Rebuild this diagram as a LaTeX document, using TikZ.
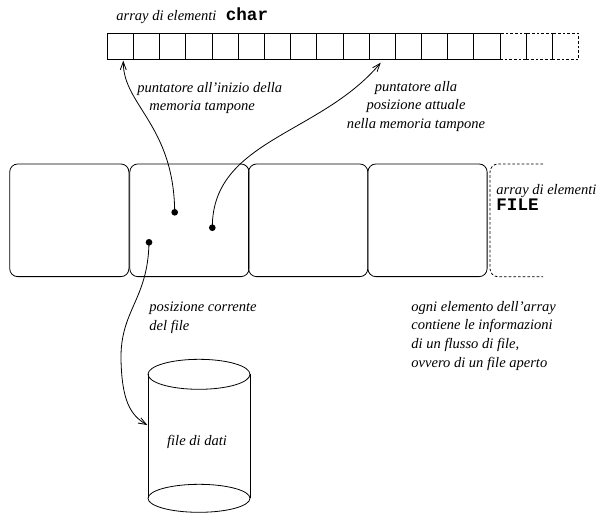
\documentclass[tikz,border=0pt]{standalone}
\usepackage{fontspec}
\setmainfont{Liberation Serif}
\setmonofont{Liberation Mono}
\usetikzlibrary{arrows.meta}
\begin{document}
\begin{tikzpicture}[x=0.75pt,y=-0.75pt,
  line width=0.6pt,
  cell/.style={draw, minimum width=19.64pt, minimum height=19.5pt, inner sep=0pt, outer sep=0pt},
  ghost/.style={cell, dash pattern=on 2pt off 1.5pt},
  fbox/.style={draw, rounded corners=6pt, minimum width=89.4pt, minimum height=84.5pt, inner sep=0pt, outer sep=0pt},
  lbl/.style={font=\fontsize{10.9}{13.9}\selectfont\itshape, inner sep=0pt, align=left},
  dot/.style={circle, fill, inner sep=0pt, minimum size=5pt},
  ptr/.style={-{Straight Barb[length=6pt,width=4.5pt]}},
  hint/.style={dash pattern=on 2pt off 1.5pt},
]
\newcommand{\codetxt}[1]{{\fontsize{13.2}{13.9}\selectfont\ttfamily\bfseries\upshape #1}}
\useasboundingbox (0,0) rectangle (602,512);

% array of char
\foreach \i in {0,...,14}
  \node[cell] (c\i) at (120.39+26.18*\i, 46.4) {};
\foreach \i in {15,16,17}
  \node[ghost] (c\i) at (120.39+26.18*\i, 46.4) {};
\node[lbl, anchor=base west] (lchar) at (116,20.5) {array di elementi\hspace{7pt}\codetxt{char}};

% array of FILE
\node[fbox] (f1) at (69.3,220.3) {};
\node[fbox] (f2) at (189.4,220.3) {};
\node[fbox] (f3) at (308.2,220.3) {};
\node[fbox] (f4) at (427.5,220.3) {};
\draw[hint, rounded corners=6pt] (543,164) -- (490,164) -- (490,276.7) -- (543,276.7);
\node[lbl, anchor=base west] (lfile) at (496,210) {array di elementi\\[-2.2pt]\codetxt{FILE}};

% pointers
\node[dot] (d1) at (174.7,212.3) {};
\node[dot] (d2) at (212.3,227.7) {};
\node[dot] (d3) at (149,242.3) {};
\coordinate (t1) at (123.3,60.7);
\coordinate (t2) at (380.7,62.7);
\coordinate (t3) at (147.3,425);

\draw[ptr] (d1.center) .. controls (174,125) and (123,105) .. (t1);
\draw[ptr] (d2.center) .. controls (212,140) and (320,135) .. (t2);
\draw[ptr] (d3.center) .. controls (148,300) and (120,310) .. (121,360)
                      .. controls (122,400) and (130,415) .. (t3);

\node[lbl, anchor=base west] (lp1) at (137,110.7) {puntatore all'inizio della\\\hspace*{9pt}memoria tampone};
\node[lbl, anchor=base, align=center] (lp2) at (416,128.3) {puntatore alla\\posizione attuale\\nella memoria tampone};
\node[lbl, anchor=base west] (lp3) at (149,330) {posizione corrente\\del file};
\node[lbl, anchor=base west] (lnote) at (411,367) {ogni elemento dell'array\\contiene le informazioni\\di un flusso di file,\\ovvero di un file aperto};

% data file cylinder
\draw (199,374.3) ellipse [x radius=51, y radius=15];
\draw (199,498.3) ellipse [x radius=51, y radius=14];
\draw (148,374.3) -- (148,498.3);
\draw (250,374.3) -- (250,498.3);
\node[lbl] (cyl) at (197,442) {file di dati};
\end{tikzpicture}
\end{document}
